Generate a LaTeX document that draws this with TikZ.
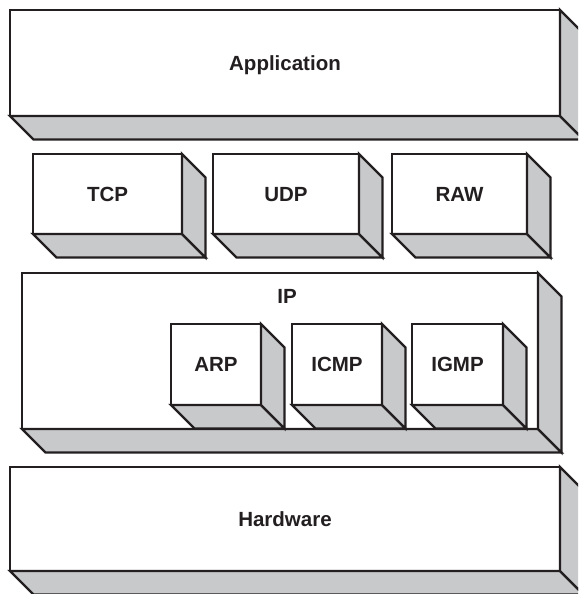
\documentclass[tikz,border=0pt]{standalone}
\usepackage{fontspec}
\setmainfont{Liberation Sans}
\definecolor{facegrey}{RGB}{200,201,203}
\definecolor{inkc}{RGB}{35,31,32}
\newcommand\bxdepth{23.5}
\tikzset{
  face/.style={draw=inkc, fill=facegrey, line width=2.4pt, line join=miter},
  front/.style={draw=inkc, fill=white, line width=2.4pt, outer sep=0pt, inner sep=0pt,
    text=inkc, font=\bfseries\fontsize{20.5}{24}\selectfont, text height=14.6pt, text depth=0pt},
  lbl/.style={text=inkc, font=\bfseries\fontsize{20.5}{24}\selectfont, inner sep=0pt, text height=14.6pt, text depth=0pt}
}
\newcommand\tdbox[6]{%
  \node[front, minimum width={#4pt-#2pt}, minimum height={#5pt-#3pt}] (#1) at ({(#2+#4)/2},{(#3+#5)/2}) {#6};
  \draw[face] (#1.south west) -- (#1.south east) -- ([shift={(\bxdepth,\bxdepth)}]#1.south east) -- ([shift={(\bxdepth,\bxdepth)}]#1.south west) -- cycle;
  \draw[face] (#1.south east) -- (#1.north east) -- ([shift={(\bxdepth,\bxdepth)}]#1.north east) -- ([shift={(\bxdepth,\bxdepth)}]#1.south east) -- cycle;
}
\begin{document}
\begin{tikzpicture}[x=1pt,y=-1pt]
  \useasboundingbox (0,0) rectangle (578,594);
  \clip (0,0) rectangle (578,594);
  \fill[white] (0,0) rectangle (578,594);
  % Application
  \tdbox{app}{10}{10}{560}{116}{Application}
  % transport layer
  \tdbox{tcp}{33}{154}{182}{234}{TCP}
  \tdbox{udp}{213}{154}{359}{234}{UDP}
  \tdbox{raw}{392}{154}{527}{234}{RAW}
  % IP
  \tdbox{ip}{22}{273}{538}{429}{}
  \node[lbl] (iplabel) at (287,296) {IP};
  \tdbox{arp}{171}{324}{261}{405}{ARP}
  \tdbox{icmp}{292}{324}{382}{405}{ICMP}
  \tdbox{igmp}{412}{324}{503}{405}{IGMP}
  % Hardware
  \tdbox{hw}{10}{467}{560}{571}{Hardware}
\end{tikzpicture}
\end{document}
